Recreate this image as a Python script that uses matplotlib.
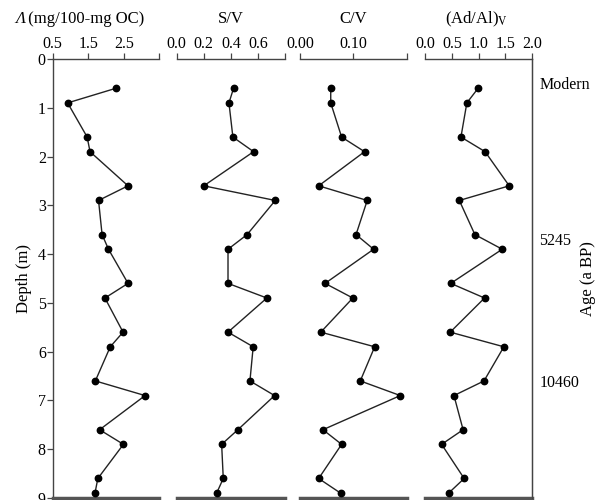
import matplotlib
matplotlib.use("Agg")
import matplotlib.pyplot as plt

plt.rcParams['font.family'] = ['Liberation Serif', 'DejaVu Serif']
plt.rcParams['mathtext.fontset'] = 'stix'

depth = [0.6, 0.9, 1.6, 1.9, 2.6, 2.9, 3.6, 3.9, 4.6, 4.9,
         5.6, 5.9, 6.6, 6.9, 7.6, 7.9, 8.6, 8.9]
lam = [2.28, 0.92, 1.47, 1.55, 2.62, 1.79, 1.89, 2.07, 2.62, 1.97,
       2.48, 2.12, 1.70, 3.10, 1.82, 2.49, 1.77, 1.69]
sv = [0.42, 0.386, 0.415, 0.568, 0.20, 0.728, 0.52, 0.379, 0.379, 0.666,
      0.379, 0.565, 0.541, 0.723, 0.452, 0.332, 0.344, 0.295]
cv = [0.0576, 0.0576, 0.078, 0.121, 0.035, 0.126, 0.105, 0.138, 0.047, 0.099,
      0.039, 0.140, 0.113, 0.188, 0.043, 0.078, 0.035, 0.076]
adal = [0.99, 0.78, 0.67, 1.12, 1.57, 0.64, 0.93, 1.44, 0.48, 1.11,
        0.47, 1.47, 1.10, 0.54, 0.71, 0.31, 0.73, 0.44]

titles = [" (mg/100-mg OC)", "S/V", "C/V", r"(Ad/Al)$_{\mathrm{V}}$"]
title_symbol = "Λ"
xlims = [(0.5, 3.5), (0.0, 0.8), (0.0, 0.2), (0.0, 2.0)]
xticks = [[0.5, 1.5, 2.5, 3.5], [0.0, 0.2, 0.4, 0.6, 0.8], [0.0, 0.1, 0.2],
          [0.0, 0.5, 1.0, 1.5, 2.0]]
xticklabels = [["0.5", "1.5", "2.5", ""], ["0.0", "0.2", "0.4", "0.6", ""],
               ["0.00", "0.10", ""], ["0.0", "0.5", "1.0", "1.5", "2.0"]]
depth_ticks = [0, 1, 2, 3, 4, 5, 6, 7, 8, 9]
age_depths = [0.5, 3.7, 6.6]
age_labels = ["Modern", "5245", "10460"]

W, H = 597, 500
fig = plt.figure(figsize=(W / 100, H / 100), dpi=100)
lefts = [52.7, 176.7, 300.0, 425.0]
widths = [106.6, 108.3, 106.7, 107.3]
title_cx = [91, 231, 353, 476]
top_px, bot_px = 59, 498

series = [lam, sv, cv, adal]
spcol = '#444444'
for i in range(4):
    ax = fig.add_axes([lefts[i] / W, 1 - bot_px / H, widths[i] / W, (bot_px - top_px) / H])
    ax.plot(series[i], depth, color='#222222', lw=1.0, marker='o', ms=4.6,
            mfc='black', mec='black', zorder=3, clip_on=False)
    ax.set_ylim(9, 0)
    ax.set_xlim(*xlims[i])
    ax.xaxis.tick_top()
    ax.set_xticks(xticks[i])
    ax.set_xticklabels(xticklabels[i])
    ax.tick_params(axis='x', direction='out', length=4, width=0.9, color=spcol,
                   labelsize=11.5, pad=1, top=True, bottom=False)
    for s in ['top', 'bottom']:
        ax.spines[s].set_color(spcol)
    ax.spines['top'].set_linewidth(1.0)
    ax.spines['bottom'].set_linewidth(2.5)
    ax.spines['bottom'].set_color('#555555')
    ax.spines['right'].set_visible(i == 3)
    ax.spines['left'].set_visible(i == 0)
    ax.spines['right'].set_color(spcol)
    ax.spines['left'].set_color(spcol)
    ax.spines['right'].set_linewidth(1.0)
    ax.spines['left'].set_linewidth(1.0)
    if i == 0:
        ax.set_yticks(depth_ticks)
        ax.tick_params(axis='y', direction='out', length=4, width=0.9, color=spcol,
                       labelsize=11.5, pad=1)
        ax.set_ylabel("Depth (m)", fontsize=12, labelpad=4)
        fig.text(15 / W, 1 - 19 / H, title_symbol, ha='left', va='center',
                 fontsize=12, style='italic')
        fig.text(24 / W, 1 - 19 / H, titles[i], ha='left', va='center', fontsize=12)
    else:
        ax.set_yticks([])
        fig.text(title_cx[i] / W, 1 - 19 / H, titles[i], ha='center', va='center',
                 fontsize=12)
    if i == 3:
        ax2 = ax.twinx()
        ax2.set_ylim(9, 0)
        ax2.set_yticks(age_depths)
        ax2.set_yticklabels(age_labels)
        ax2.tick_params(axis='y', length=0, labelsize=11.5, pad=5)
        for s in ['top', 'bottom', 'left']:
            ax2.spines[s].set_visible(False)
        ax2.spines['right'].set_color(spcol)
        ax2.set_ylabel("Age (a BP)", fontsize=12, labelpad=-7)

fig.savefig("out.png", dpi=100)
